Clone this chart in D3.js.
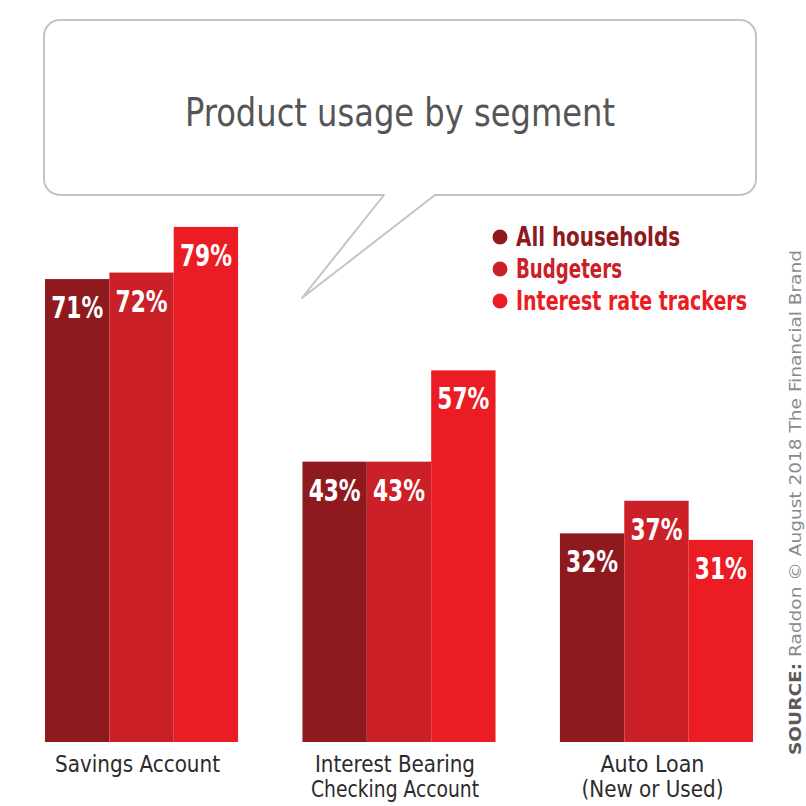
<!DOCTYPE html>
<html>
<head>
<meta charset="utf-8">
<script src="https://cdn.jsdelivr.net/npm/d3@7"></script>
<style>
  html, body { margin: 0; padding: 0; background: #fff; }
  svg { display: block; }
</style>
</head>
<body>
<svg id="chart" width="806" height="806"></svg>
<script>
// Product usage shares (%) per customer segment
const categories = ["Savings Account", "Interest Bearing Checking Account", "Auto Loan (New or Used)"];
const categoryLines = [["Savings Account"], ["Interest Bearing", "Checking Account"], ["Auto Loan", "(New or Used)"]];
const seriesNames = ["All households", "Budgeters", "Interest rate trackers"];
const allHouseholds = [71, 43, 32];
const budgeters = [72, 43, 37];
const rateTrackers = [79, 57, 31];
const seriesValues = [allHouseholds, budgeters, rateTrackers];
const seriesColors = ["#8e1a1f", "#cc2029", "#ec1c24"];
const titleText = "Product usage by segment";
const sourceLabel = "SOURCE:";
const sourceText = " Raddon \u00A9 August 2018 The Financial Brand";

const FONT = "'Liberation Sans Narrow', 'DejaVu Sans Condensed', 'Arial Narrow', sans-serif";
const svg = d3.select("#chart");

// Rows for the grouped bars
const rows = [];
categories.forEach((c, ci) => {
  seriesNames.forEach((s, si) => {
    rows.push({ category: c, series: s, value: seriesValues[si][ci], color: seriesColors[si] });
  });
});

// Scales
const x0 = d3.scaleBand().domain(categories).range([45, 753]).paddingInner(0.25).paddingOuter(0);
const x1 = d3.scaleBand().domain(seriesNames).range([0, x0.bandwidth()]).padding(0);
const y = d3.scaleLinear().domain([0, 100]).range([742, 90]);

// Fit a text element to a target width
function fit(sel, width) {
  sel.attr("textLength", width).attr("lengthAdjust", "spacingAndGlyphs");
}

// Speech-bubble title box
const bx0 = 44, bx1 = 756, by0 = 20, by1 = 195, r = 16;
const tailL = 384, tailR = 435, tipX = 302, tipY = 298;
const p = d3.path();
p.moveTo(bx0 + r, by0);
p.lineTo(bx1 - r, by0);
p.arcTo(bx1, by0, bx1, by0 + r, r);
p.lineTo(bx1, by1 - r);
p.arcTo(bx1, by1, bx1 - r, by1, r);
p.lineTo(tailR, by1);
p.lineTo(tipX, tipY);
p.lineTo(tailL, by1);
p.lineTo(bx0 + r, by1);
p.arcTo(bx0, by1, bx0, by1 - r, r);
p.lineTo(bx0, by0 + r);
p.arcTo(bx0, by0, bx0 + r, by0, r);
p.closePath();
svg.append("path")
  .attr("d", p.toString())
  .attr("fill", "#fff")
  .attr("stroke", "#c4c4c4")
  .attr("stroke-width", 2)
  .attr("stroke-linejoin", "round");

svg.append("text")
  .attr("x", 400).attr("y", 126)
  .attr("text-anchor", "middle")
  .attr("font-family", FONT)
  .attr("font-size", 39)
  .attr("fill", "#555")
  .text(titleText)
  .call(fit, 430);

// Bars
const groups = svg.append("g").selectAll("g")
  .data(categories)
  .join("g")
  .attr("transform", d => `translate(${x0(d)},0)`);

groups.selectAll("rect")
  .data(c => rows.filter(r => r.category === c))
  .join("rect")
  .attr("x", d => x1(d.series))
  .attr("y", d => y(d.value))
  .attr("width", x1.bandwidth())
  .attr("height", d => y(0) - y(d.value))
  .attr("fill", d => d.color);

// Value labels inside the bars
groups.selectAll("text.val")
  .data(c => rows.filter(r => r.category === c))
  .join("text")
  .attr("class", "val")
  .attr("x", d => x1(d.series) + x1.bandwidth() / 2)
  .attr("y", d => y(d.value) + 39)
  .attr("text-anchor", "middle")
  .attr("font-family", FONT)
  .attr("font-weight", "bold")
  .attr("font-size", 31)
  .attr("fill", "#fff")
  .text(d => d.value + "%")
  .call(fit, 52);

// Category labels under the groups (one text element per line)
const lineWidths = { "Savings Account": 165, "Interest Bearing": 160, "Checking Account": 168, "Auto Loan": 104, "(New or Used)": 142 };
const catLines = [];
categories.forEach((c, i) => {
  categoryLines[i].forEach((line, li) => catLines.push({ category: c, line, li }));
});
svg.append("g").selectAll("text")
  .data(catLines)
  .join("text")
  .attr("x", d => x0(d.category) + x0.bandwidth() / 2 - 4)
  .attr("y", d => 772 + d.li * 25)
  .attr("text-anchor", "middle")
  .attr("font-family", FONT)
  .attr("font-size", 23)
  .attr("fill", "#2b2b2b")
  .text(d => d.line)
  .each(function (d) { d3.select(this).call(fit, lineWidths[d.line]); });

// Legend
const legend = svg.append("g").selectAll("g")
  .data(seriesNames)
  .join("g")
  .attr("transform", (d, i) => `translate(500,${237 + i * 32})`);

legend.append("circle")
  .attr("r", 7.5)
  .attr("fill", (d, i) => seriesColors[i]);

const legendWidths = [164, 106, 231];
legend.append("text")
  .attr("x", 16)
  .attr("y", 9)
  .attr("font-family", FONT)
  .attr("font-weight", "bold")
  .attr("font-size", 26)
  .attr("fill", (d, i) => seriesColors[i])
  .text(d => d)
  .each(function (d, i) { d3.select(this).call(fit, legendWidths[i]); });

// Vertical source credit
const src = svg.append("text")
  .attr("transform", "translate(801,755) rotate(-90)")
  .attr("font-family", FONT)
  .attr("font-size", 16)
  .attr("textLength", 505)
  .attr("lengthAdjust", "spacingAndGlyphs");
src.append("tspan").attr("font-weight", "bold").attr("fill", "#5a5a5a").text(sourceLabel);
src.append("tspan").attr("fill", "#8a8a8a").text(sourceText);
</script>
</body>
</html>
